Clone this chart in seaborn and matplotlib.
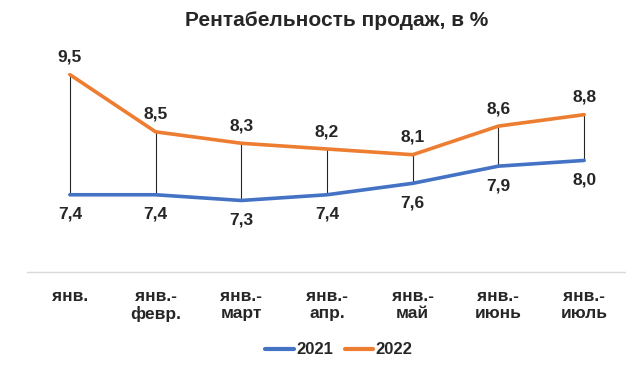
import numpy as np
import pandas as pd
import matplotlib.pyplot as plt
import seaborn as sns

# Data
periods = ['янв.', 'янв.-\nфевр.', 'янв.-\nмарт', 'янв.-\nапр.', 'янв.-\nмай', 'янв.-\nиюнь', 'янв.-\nиюль']
values_2021 = [7.4, 7.4, 7.3, 7.4, 7.6, 7.9, 8.0]
values_2022 = [9.5, 8.5, 8.3, 8.2, 8.1, 8.6, 8.8]
years = ['2021', '2022']

sns.set_style('white')
plt.rcParams['font.family'] = ['Liberation Sans', 'DejaVu Sans']
plt.rcParams['font.weight'] = 'bold'

df = pd.DataFrame({
    'period': periods * 2,
    'value': values_2021 + values_2022,
    'year': [years[0]] * len(periods) + [years[1]] * len(periods),
})

colors = {'2021': '#4472C4', '2022': '#ED7D31'}

fig = plt.figure(figsize=(6.26, 3.69), dpi=100)
ax = fig.add_axes([27 / 626, 97 / 369, 600 / 626, 226 / 369])

sns.lineplot(data=df, x='period', y='value', hue='year', palette=colors,
             sort=False, linewidth=2.6, ax=ax, legend=False)

xs = np.arange(len(periods))
# high-low lines
ax.vlines(xs, values_2021, values_2022, color='#262626', linewidth=0.8, zorder=1)

for x, v in zip(xs, values_2022):
    ax.annotate(f'{v:.1f}'.replace('.', ','), (x, v), xytext=(0, 12.5), textcoords='offset points',
                ha='center', va='center', fontsize=12.5, fontweight='bold')
for x, v in zip(xs, values_2021):
    ax.annotate(f'{v:.1f}'.replace('.', ','), (x, v), xytext=(0, -14), textcoords='offset points',
                ha='center', va='center', fontsize=12.5, fontweight='bold')

ax.set_xlim(-0.5, len(periods) - 0.5)
ax.set_ylim(6.05, 10.0)
ax.set_xlabel('')
ax.set_ylabel('')
ax.set_yticks([])
ax.set_xticks(xs)
ax.set_xticklabels(periods, fontsize=12.5, fontweight='bold', linespacing=1.2)
ax.tick_params(axis='x', length=0, pad=12)
for s in ['top', 'right', 'left']:
    ax.spines[s].set_visible(False)
ax.spines['bottom'].set_color('#D9D9D9')
ax.spines['bottom'].set_linewidth(1)

fig.text(337 / 626, 1 - 21 / 369, 'Рентабельность продаж, в %', ha='center', va='center',
         fontsize=15, fontweight='bold')

handles = [plt.Line2D([], [], color=colors[y], linewidth=3) for y in years]
fig.legend(handles, years, loc='center', bbox_to_anchor=(339 / 626, 1 - 350 / 369), ncol=2,
           frameon=False, fontsize=12, handlelength=1.7, columnspacing=0.7, handletextpad=0.15)

plt.savefig('out.png', dpi=100)
